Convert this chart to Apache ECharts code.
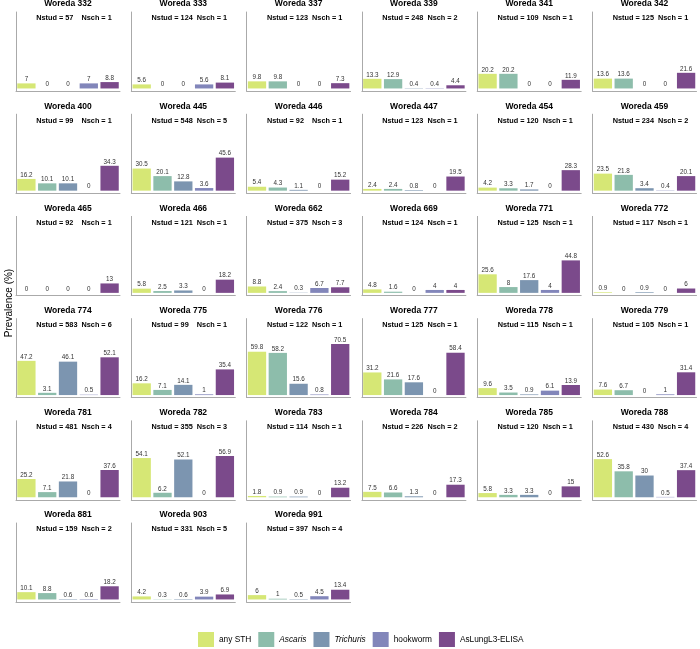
<!DOCTYPE html>
<html><head><meta charset="utf-8">
<script src="https://cdn.jsdelivr.net/npm/echarts@6/dist/echarts.min.js"></script>
<style>html,body{margin:0;padding:0;background:#fff}#c{width:700px;height:649px}</style>
</head><body><div id="c"></div>
<script>
const woredas = [332,333,337,339,341,342,400,445,446,447,454,459,465,466,662,669,771,772,774,775,776,777,778,779,781,782,783,784,785,788,881,903,991];
const nstud = [57,124,123,248,109,125,99,548,92,123,120,234,92,121,375,124,125,117,583,99,122,125,115,105,481,355,114,226,120,430,159,331,397];
const nsch = [1,1,1,2,1,1,1,5,1,1,1,2,1,1,3,1,1,1,6,1,1,1,1,1,4,3,1,2,1,4,2,5,4];
const anySTH = [7,5.6,9.8,13.3,20.2,13.6,16.2,30.5,5.4,2.4,4.2,23.5,0,5.8,8.8,4.8,25.6,0.9,47.2,16.2,59.8,31.2,9.6,7.6,25.2,54.1,1.8,7.5,5.8,52.6,10.1,4.2,6];
const ascaris = [0,0,9.8,12.9,20.2,13.6,10.1,20.1,4.3,2.4,3.3,21.8,0,2.5,2.4,1.6,8,0,3.1,7.1,58.2,21.6,3.5,6.7,7.1,6.2,0.9,6.6,3.3,35.8,8.8,0.3,1];
const trichuris = [0,0,0,0.4,0,0,10.1,12.8,1.1,0.8,1.7,3.4,0,3.3,0.3,0,17.6,0.9,46.1,14.1,15.6,17.6,0.9,0,21.8,52.1,0.9,1.3,3.3,30,0.6,0.6,0.5];
const hookworm = [7,5.6,0,0.4,0,0,0,3.6,0,0,0,0.4,0,0,6.7,4,4,0,0.5,1,0.8,0,6.1,1,0,0,0,0,0,0.5,0.6,3.9,4.5];
const aslung = [8.8,8.1,7.3,4.4,11.9,21.6,34.3,45.6,15.2,19.5,28.3,20.1,13,18.2,7.7,4,44.8,6,52.1,35.4,70.5,58.4,13.9,31.4,37.6,56.9,13.2,17.3,15,37.4,18.2,6.9,13.4];
const seriesNames = ['any STH','Ascaris','Trichuris','hookworm','AsLungL3-ELISA'];
const colors = ['#d6e775','#8dbdab','#7c95b0','#8286ba','#7b4a8b'];

const values = [anySTH, ascaris, trichuris, hookworm, aslung];
const FONT = '"Liberation Sans", Arial, Helvetica, sans-serif';
const grids=[], xAxes=[], yAxes=[], series=[], titles=[];
woredas.forEach((w,i)=>{
  const col=i%6, row=Math.floor(i/6);
  const left=16+col*115.3, top=12+row*102.2, W=104, H=79;
  grids.push({left:left, top:top, width:W, height:H});
  xAxes.push({type:'category', gridIndex:i, data:seriesNames,
    axisLine:{onZero:false, lineStyle:{color:'#aaaaaa', width:1}},
    axisTick:{show:false}, axisLabel:{show:false}, splitLine:{show:false}});
  yAxes.push({type:'value', gridIndex:i, min:-3.5, max:105.5,
    axisLine:{show:true, lineStyle:{color:'#aaaaaa', width:1}},
    axisTick:{show:false}, axisLabel:{show:false}, splitLine:{show:false}});
  values.forEach((arr,k)=>{
    const d = seriesNames.map((n,j)=> j===k ? arr[i] : '-');
    series.push({type:'bar', name:seriesNames[k], xAxisIndex:i, yAxisIndex:i, data:d,
      barGap:'-100%', barWidth:'88%', itemStyle:{color:colors[k]},
      label:{show:true, position:'top', distance:1, fontSize:6.3, color:'#333', fontFamily:FONT,
        formatter:p=>String(p.value)}});
  });
  titles.push({text:'Woreda '+w, left:left+W/2, top:top-13, textAlign:'center', padding:0,
    textStyle:{fontSize:8.5, lineHeight:10, fontWeight:'bold', color:'#000', fontFamily:FONT}});
  const gap = nstud[i] < 100 ? '    ' : '  ';
  titles.push({text:'Nstud = '+nstud[i]+gap+'Nsch = '+nsch[i], left:left+W/2+6, top:top+2.3, textAlign:'center', padding:0,
    textStyle:{fontSize:7.3, lineHeight:8, fontWeight:'bold', color:'#000', fontFamily:FONT}});
});

const chart = echarts.init(document.getElementById('c'), null, {renderer:'canvas'});
chart.setOption({
  animation:false,
  textStyle:{fontFamily:FONT},
  title:titles,
  grid:grids, xAxis:xAxes, yAxis:yAxes, series:series,
  legend:{data:seriesNames, left:198, top:632, padding:0, itemWidth:16, itemHeight:15, itemGap:7, icon:'rect',
    textStyle:{fontSize:8.3, color:'#000', fontFamily:FONT, rich:{i:{fontStyle:'italic', fontSize:8.3, color:'#000', fontFamily:FONT}}},
    formatter:n=> (n==='Ascaris'||n==='Trichuris') ? '{i|'+n+'}' : n},
  graphic:[{type:'text', x:9, y:303, rotation:Math.PI/2,
    style:{text:'Prevalence (%)', fontSize:10, fill:'#000', fontFamily:FONT, align:'center', verticalAlign:'middle', textAlign:'center', textVerticalAlign:'middle'}}]
});
</script></body></html>
